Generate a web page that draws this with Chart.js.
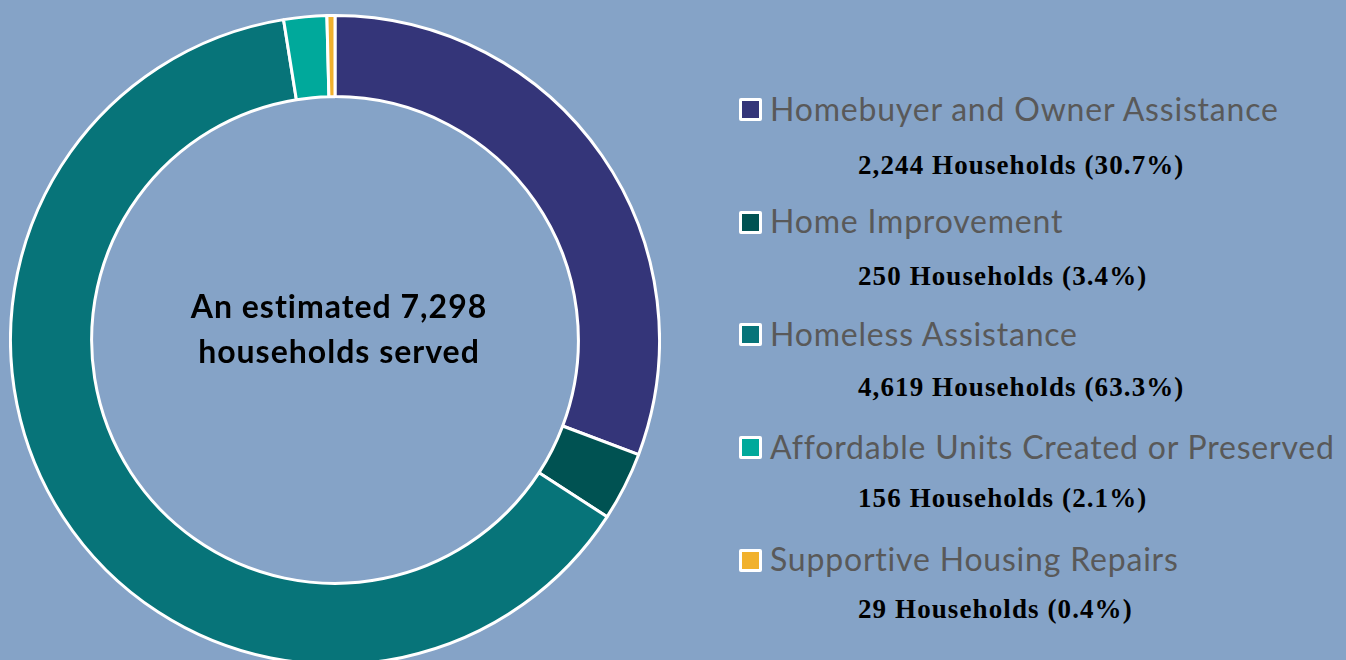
<!DOCTYPE html>
<html>
<head>
<meta charset="utf-8">
<script src="https://cdn.jsdelivr.net/npm/chart.js@4/dist/chart.umd.min.js"></script>
<style>
  html, body { margin: 0; padding: 0; }
  body {
    width: 1346px; height: 660px; overflow: hidden;
    background: #85a3c7; position: relative;
  }
  #anel { position: absolute; left: 9px; top: 14px; width: 652px; height: 652px; }
  #centro {
    position: absolute; left: 135px; width: 400px; text-align: center;
    font-family: Lato, "Open Sans", sans-serif; font-weight: bold; font-size: 32px;
    letter-spacing: 1px; line-height: 1; color: #000;
    font-variant-ligatures: none;
  }
  #centro div { position: absolute; left: 0; width: 100%; white-space: nowrap; }
  #legenda { position: absolute; left: 739px; top: 0; width: 607px; height: 660px; }
  .caixa {
    position: absolute; left: 0; width: 17px; height: 17px;
    border: 3px solid #fff; border-radius: 2px;
  }
  .rotulo {
    position: absolute; left: 31px; white-space: nowrap; line-height: 1;
    font-family: Lato, "Open Sans", sans-serif; font-size: 32px; letter-spacing: 0.8px;
    color: #595959; font-variant-ligatures: none;
  }
  .qtd {
    position: absolute; left: 119px; white-space: nowrap; line-height: 1;
    font-family: "Liberation Serif", serif; font-weight: bold; font-size: 27px;
    letter-spacing: 1.1px; color: #000;
  }
</style>
</head>
<body>
<canvas id="anel" width="652" height="652"></canvas>
<div id="centro"></div>
<div id="legenda"></div>
<script>
// Categorias e valores (domicílios atendidos)
const categorias = [
  'Homebuyer and Owner Assistance',
  'Home Improvement',
  'Homeless Assistance',
  'Affordable Units Created or Preserved',
  'Supportive Housing Repairs'
];
const domicilios = [2244, 250, 4619, 156, 29];
const percentuais = ['30.7%', '3.4%', '63.3%', '2.1%', '0.4%'];
const cores = ['#343579', '#005252', '#077479', '#00a99b', '#f1b12d'];
const textoCentro = ['An estimated 7,298', 'households served'];

// Legenda montada à mão, ao lado do gráfico
const legenda = document.getElementById('legenda');
categorias.forEach((nome, i) => {
  const meioRotulo = 109.5 + i * 112.7;
  const meioQtd = 166 + i * 111;

  const caixa = document.createElement('div');
  caixa.className = 'caixa';
  caixa.style.top = (meioRotulo - 11.5) + 'px';
  caixa.style.background = cores[i];
  legenda.appendChild(caixa);

  const rotulo = document.createElement('div');
  rotulo.className = 'rotulo';
  rotulo.style.top = (meioRotulo - 17) + 'px';
  rotulo.textContent = nome;
  legenda.appendChild(rotulo);

  const qtd = document.createElement('div');
  qtd.className = 'qtd';
  qtd.style.top = (meioQtd - 13.7) + 'px';
  qtd.textContent = domicilios[i].toLocaleString('en-US') + ' Households (' + percentuais[i] + ')';
  legenda.appendChild(qtd);
});

const grafico = new Chart(document.getElementById('anel'), {
  type: 'doughnut',
  data: {
    labels: categorias,
    datasets: [{
      data: domicilios,
      backgroundColor: cores,
      borderColor: '#ffffff',
      borderWidth: 3
    }]
  },
  options: {
    responsive: false,
    animation: false,
    cutout: '75%',
    plugins: {
      legend: { display: false },
      tooltip: { enabled: false }
    }
  }
});

// Texto no meio da rosca, posto a partir do centro do arco
const arco = grafico.getDatasetMeta(0).data[0];
const centro = document.getElementById('centro');
const cx = 9 + arco.x + 4, cy = 14 + arco.y;
centro.style.left = (cx - 200) + 'px';
centro.style.top = '0px';
textoCentro.forEach((linha, i) => {
  const d = document.createElement('div');
  d.textContent = linha;
  d.style.top = (cy - 33 + i * 45 - 17) + 'px';
  centro.appendChild(d);
});
</script>
</body>
</html>
